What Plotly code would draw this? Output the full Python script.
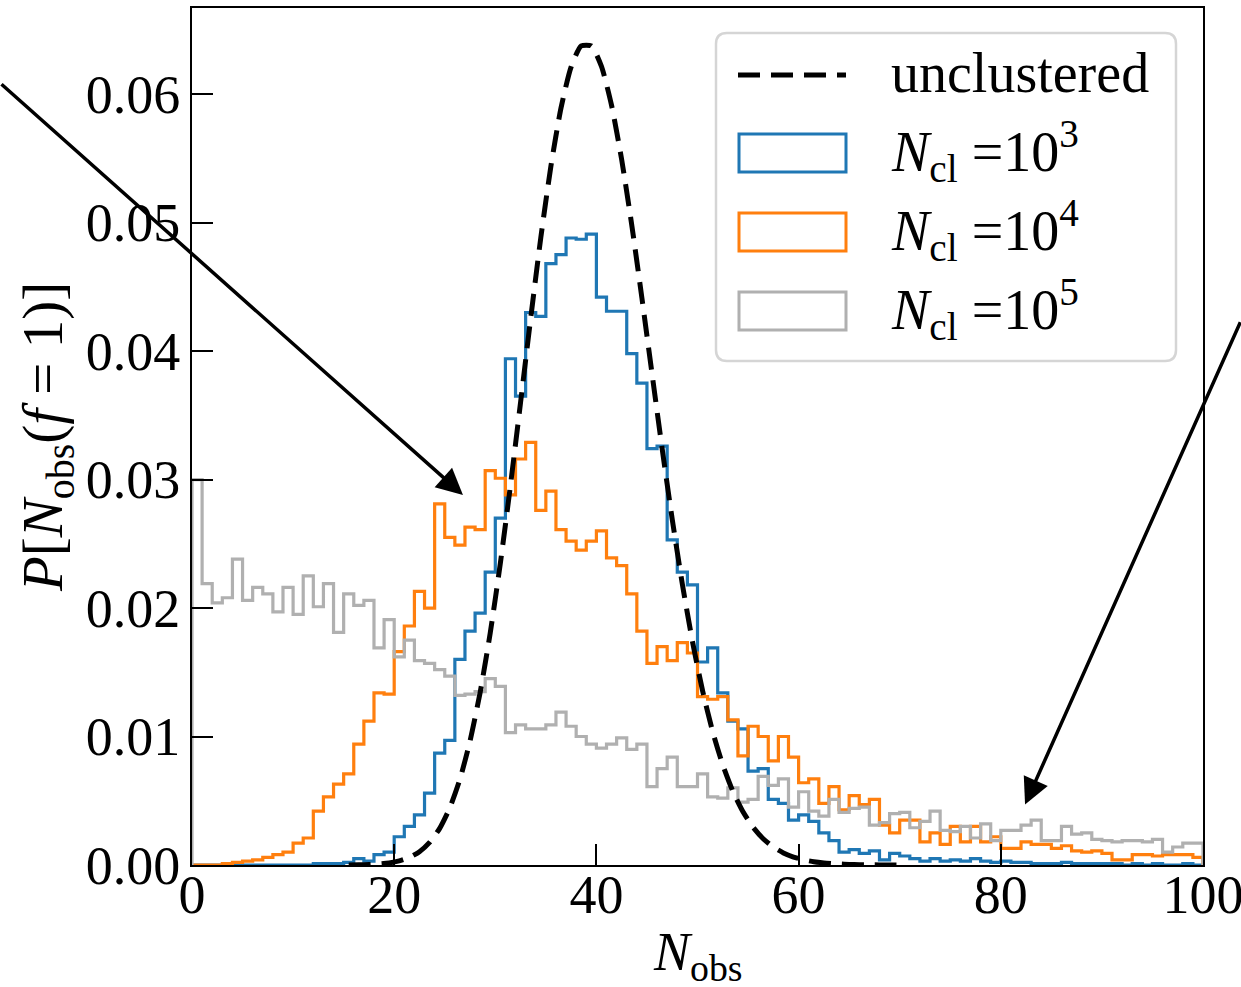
import plotly.graph_objects as go

# Unit-width bins spanning N_obs = 0 ... 100
bin_edges = list(range(0, 101))

# Normalised step histograms P[N_obs(f=1)] for each number of clusters
p_ncl_1e3 = [
    0, 0, 0, 0, 0, 0, 0, 0, 0, 0,
    0, 0, 0.0001, 0.0001, 0.0001, 0.0002, 0.0005, 0.0003, 0.0008, 0.0010,
    0.0022, 0.0030, 0.0039, 0.0056, 0.0087, 0.0097, 0.0160, 0.0182, 0.0196, 0.0228,
    0.0270, 0.0394, 0.0365, 0.0430, 0.0427, 0.0468, 0.0475, 0.0488, 0.0487, 0.0491,
    0.0442, 0.0431, 0.0431, 0.0398, 0.0375, 0.0324, 0.0326, 0.0253, 0.0228, 0.0218,
    0.0158, 0.0169, 0.0134, 0.0112, 0.0106, 0.0073, 0.0075, 0.0051, 0.0048, 0.0035,
    0.0039, 0.0034, 0.0025, 0.0019, 0.0010, 0.0012, 0.0009, 0.0011, 0.0004, 0.0009,
    0.0007, 0.0005, 0.0003, 0.0005, 0.0003, 0.0004, 0.0003, 0.0005, 0.0003, 0.0002,
    0.0003, 0.0002, 0.0002, 0.0001, 0.0001, 0.0001, 0.0002, 0.0001, 0.0001, 0.0001,
    0.0001, 0.0001, 0, 0.0001, 0, 0.0001, 0, 0, 0.0001, 0,
]

p_ncl_1e4 = [
    0, 0, 0, 0.0001, 0.0002, 0.0003, 0.0004, 0.0006, 0.0008, 0.0010,
    0.0017, 0.0021, 0.0042, 0.0053, 0.0063, 0.0071, 0.0094, 0.0112, 0.0134, 0.0133,
    0.0166, 0.0186, 0.0213, 0.0200, 0.0281, 0.0255, 0.0249, 0.0263, 0.0261, 0.0307,
    0.0301, 0.0288, 0.0316, 0.0329, 0.0276, 0.0291, 0.0261, 0.0252, 0.0245, 0.0252,
    0.0260, 0.0239, 0.0233, 0.0211, 0.0182, 0.0157, 0.0170, 0.0159, 0.0173, 0.0165,
    0.0131, 0.0129, 0.0131, 0.0113, 0.0085, 0.0108, 0.0100, 0.0081, 0.0100, 0.0084,
    0.0064, 0.0067, 0.0048, 0.0061, 0.0043, 0.0054, 0.0047, 0.0051, 0.0031, 0.0025,
    0.0035, 0.0035, 0.0018, 0.0025, 0.0016, 0.0030, 0.0018, 0.0030, 0.0018, 0.0022,
    0.0013, 0.0013, 0.0018, 0.0016, 0.0016, 0.0013, 0.0015, 0.0011, 0.0010, 0.0011,
    0.0009, 0.0004, 0.0004, 0.0008, 0.0008, 0.0007, 0.0008, 0.0008, 0.0008, 0.0006,
]

p_ncl_1e5 = [
    0.0300, 0.0219, 0.0204, 0.0208, 0.0238, 0.0206, 0.0216, 0.0211, 0.0197, 0.0216,
    0.0195, 0.0225, 0.0201, 0.0219, 0.0181, 0.0211, 0.0202, 0.0206, 0.0169, 0.0191,
    0.0162, 0.0175, 0.0159, 0.0157, 0.0152, 0.0147, 0.0132, 0.0133, 0.0135, 0.0145,
    0.0139, 0.0103, 0.0109, 0.0106, 0.0106, 0.0109, 0.0119, 0.0108, 0.0100, 0.0094,
    0.0091, 0.0094, 0.0099, 0.0090, 0.0094, 0.0061, 0.0075, 0.0084, 0.0061, 0.0061,
    0.0071, 0.0053, 0.0052, 0.0060, 0.0049, 0.0051, 0.0069, 0.0062, 0.0067, 0.0045,
    0.0057, 0.0042, 0.0038, 0.0051, 0.0041, 0.0044, 0.0045, 0.0031, 0.0033, 0.0040,
    0.0041, 0.0029, 0.0034, 0.0042, 0.0027, 0.0026, 0.0030, 0.0021, 0.0032, 0.0019,
    0.0027, 0.0027, 0.0031, 0.0035, 0.0019, 0.0019, 0.0030, 0.0024, 0.0025, 0.0020,
    0.0019, 0.0018, 0.0019, 0.0019, 0.0018, 0.0020, 0.0010, 0.0014, 0.0017, 0.0017,
]

# Unclustered expectation, sampled at bin centres
unclustered_n = [
    15.5, 16.5, 17.5, 18.5, 19.5, 20.5, 21.5, 22.5, 23.5, 24.5,
    25.5, 26.5, 27.5, 28.5, 29.5, 30.5, 31.5, 32.5, 33.5, 34.5,
    35.5, 36.5, 37.5, 38.5, 39.5, 40.5, 41.5, 42.5, 43.5, 44.5,
    45.5, 46.5, 47.5, 48.5, 49.5, 50.5, 51.5, 52.5, 53.5, 54.5,
    55.5, 56.5, 57.5, 58.5, 59.5, 60.5, 61.5, 62.5, 63.5, 64.5,
    65.5, 66.5, 67.5, 68.5, 69.5, 70.5,
]
unclustered_p = [
    0.0000066, 0.0000160, 0.0000366, 0.0000786, 0.000161, 0.000315, 0.000584, 0.001036, 0.001756, 0.002853,
    0.004451, 0.006677, 0.009645, 0.013434, 0.018066, 0.023486, 0.029547, 0.036010, 0.042557, 0.048815,
    0.054394, 0.058927, 0.062112, 0.063746, 0.063746, 0.062152, 0.059120, 0.054897, 0.049790, 0.044132,
    0.038248, 0.032428, 0.026908, 0.021863, 0.017401, 0.013573, 0.010379, 0.007785, 0.005728, 0.004137,
    0.002934, 0.002043, 0.001398, 0.000940, 0.000621, 0.000404, 0.000258, 0.000163, 0.000101, 0.0000613,
    0.0000368, 0.0000217, 0.0000127, 0.0000073, 0.0000041, 0.0000023,
]

x_ticks = [0, 20, 40, 60, 80, 100]
x_tick_labels = ["0", "20", "40", "60", "80", "100"]
y_ticks = [0.00, 0.01, 0.02, 0.03, 0.04, 0.05, 0.06]
y_tick_labels = ["0.00", "0.01", "0.02", "0.03", "0.04", "0.05", "0.06"]

series = [
    (p_ncl_1e3, "#1f77b4", "3"),
    (p_ncl_1e4, "#ff7f0e", "4"),
    (p_ncl_1e5, "#b0b0b0", "5"),
]

FONT = "Liberation Serif"
FS = 54

W, H = 1241, 987
L, R, T, B = 192, 38, 8, 122
PW, PH = W - L - R, H - T - B


def px(xp):
    return (xp - L) / PW


def py(yp):
    return (H - B - yp) / PH


def step_trace(values, color):
    xs = [bin_edges[0]] + bin_edges[:-1] + [bin_edges[-1], bin_edges[-1]]
    ys = [0] + list(values) + [values[-1], 0]
    return go.Scatter(
        x=xs, y=ys, mode="lines", line=dict(color=color, width=3.2, shape="hv"),
        showlegend=False, hoverinfo="skip",
    )


fig = go.Figure()
for vals, col, _ in series:
    fig.add_trace(step_trace(vals, col))

fig.add_trace(go.Scatter(
    x=unclustered_n, y=unclustered_p, mode="lines",
    line=dict(color="black", width=5, dash="22px,11px", shape="spline", smoothing=0.6),
    showlegend=False, hoverinfo="skip",
))

shapes = []
# Legend frame with rounded corners
x0, x1, y0, y1, r = 716, 1176, 33, 361, 11
path = (
    f"M {px(x0 + r)} {py(y0)} L {px(x1 - r)} {py(y0)} "
    f"Q {px(x1)} {py(y0)} {px(x1)} {py(y0 + r)} L {px(x1)} {py(y1 - r)} "
    f"Q {px(x1)} {py(y1)} {px(x1 - r)} {py(y1)} L {px(x0 + r)} {py(y1)} "
    f"Q {px(x0)} {py(y1)} {px(x0)} {py(y1 - r)} L {px(x0)} {py(y0 + r)} "
    f"Q {px(x0)} {py(y0)} {px(x0 + r)} {py(y0)} Z"
)
shapes.append(dict(type="path", xref="paper", yref="paper", path=path,
                   fillcolor="rgba(255,255,255,0.8)",
                   line=dict(color="#d5d5d5", width=2.5), layer="above"))
shapes.append(dict(type="line", xref="paper", yref="paper",
                   x0=px(738), x1=px(846), y0=py(75), y1=py(75),
                   line=dict(color="black", width=5, dash="22px,11px"), layer="above"))

annotations = []
annotations.append(dict(xref="paper", yref="paper", x=px(889), y=py(73),
                        xanchor="left", yanchor="middle", showarrow=False,
                        text="unclustered", font=dict(family=FONT, size=FS + 2, color="black")))
row_tops = [134, 213, 292]
for (vals, col, expo), top in zip(series, row_tops):
    shapes.append(dict(type="rect", xref="paper", yref="paper",
                       x0=px(739), x1=px(846), y0=py(top), y1=py(top + 38),
                       line=dict(color=col, width=3), fillcolor="rgba(0,0,0,0)", layer="above"))
    annotations.append(dict(
        xref="paper", yref="paper", x=px(889), y=py(top + 17),
        xanchor="left", yanchor="middle", showarrow=False,
        text=f"<i>N</i><sub>cl</sub> =10<sup>{expo}</sup>",
        font=dict(family=FONT, size=FS + 2, color="black")))

# Axis titles
annotations.append(dict(xref="paper", yref="paper", x=0.5, y=py(955),
                        xanchor="center", yanchor="middle", showarrow=False,
                        text="<i>N</i><sub>obs</sub>",
                        font=dict(family=FONT, size=FS, color="black")))
annotations.append(dict(xref="paper", yref="paper", x=px(47), y=py(437),
                        xanchor="center", yanchor="middle", showarrow=False, textangle=-90,
                        text="<i>P</i>[<i>N</i><sub>obs</sub>(<i>f</i> = 1)]",
                        font=dict(family=FONT, size=FS + 3, color="black")))

# Pointer arrows
annotations.append(dict(x=26.8, y=0.0288, xref="x", yref="y", ax=-470, ay=-412,
                        axref="pixel", ayref="pixel", text="", showarrow=True,
                        arrowhead=2, arrowsize=1.5, arrowwidth=3.5, arrowcolor="black"))
annotations.append(dict(x=82.4, y=0.0047, xref="x", yref="y", ax=220, ay=-484,
                        axref="pixel", ayref="pixel", text="", showarrow=True,
                        arrowhead=2, arrowsize=1.5, arrowwidth=3.5, arrowcolor="black"))

axis_common = dict(
    showline=True, linecolor="black", linewidth=2, mirror=True,
    ticks="inside", ticklen=21, tickwidth=2.2, tickcolor="black",
    showgrid=False, zeroline=False, ticklabeloverflow="allow", automargin=False,
    tickfont=dict(family=FONT, size=FS, color="black"),
)

fig.update_layout(
    width=W, height=H,
    margin=dict(l=L, r=R, t=T, b=B, pad=0, autoexpand=False),
    paper_bgcolor="white", plot_bgcolor="white",
    xaxis=dict(range=[0, 100], tickvals=x_ticks, ticktext=x_tick_labels,
               ticklabelstandoff=-19, **axis_common),
    yaxis=dict(range=[0, 0.0667], tickvals=y_ticks, ticktext=y_tick_labels,
               ticklabelstandoff=-1, **axis_common),
    shapes=shapes, annotations=annotations,
)

fig.write_html("out.html")
